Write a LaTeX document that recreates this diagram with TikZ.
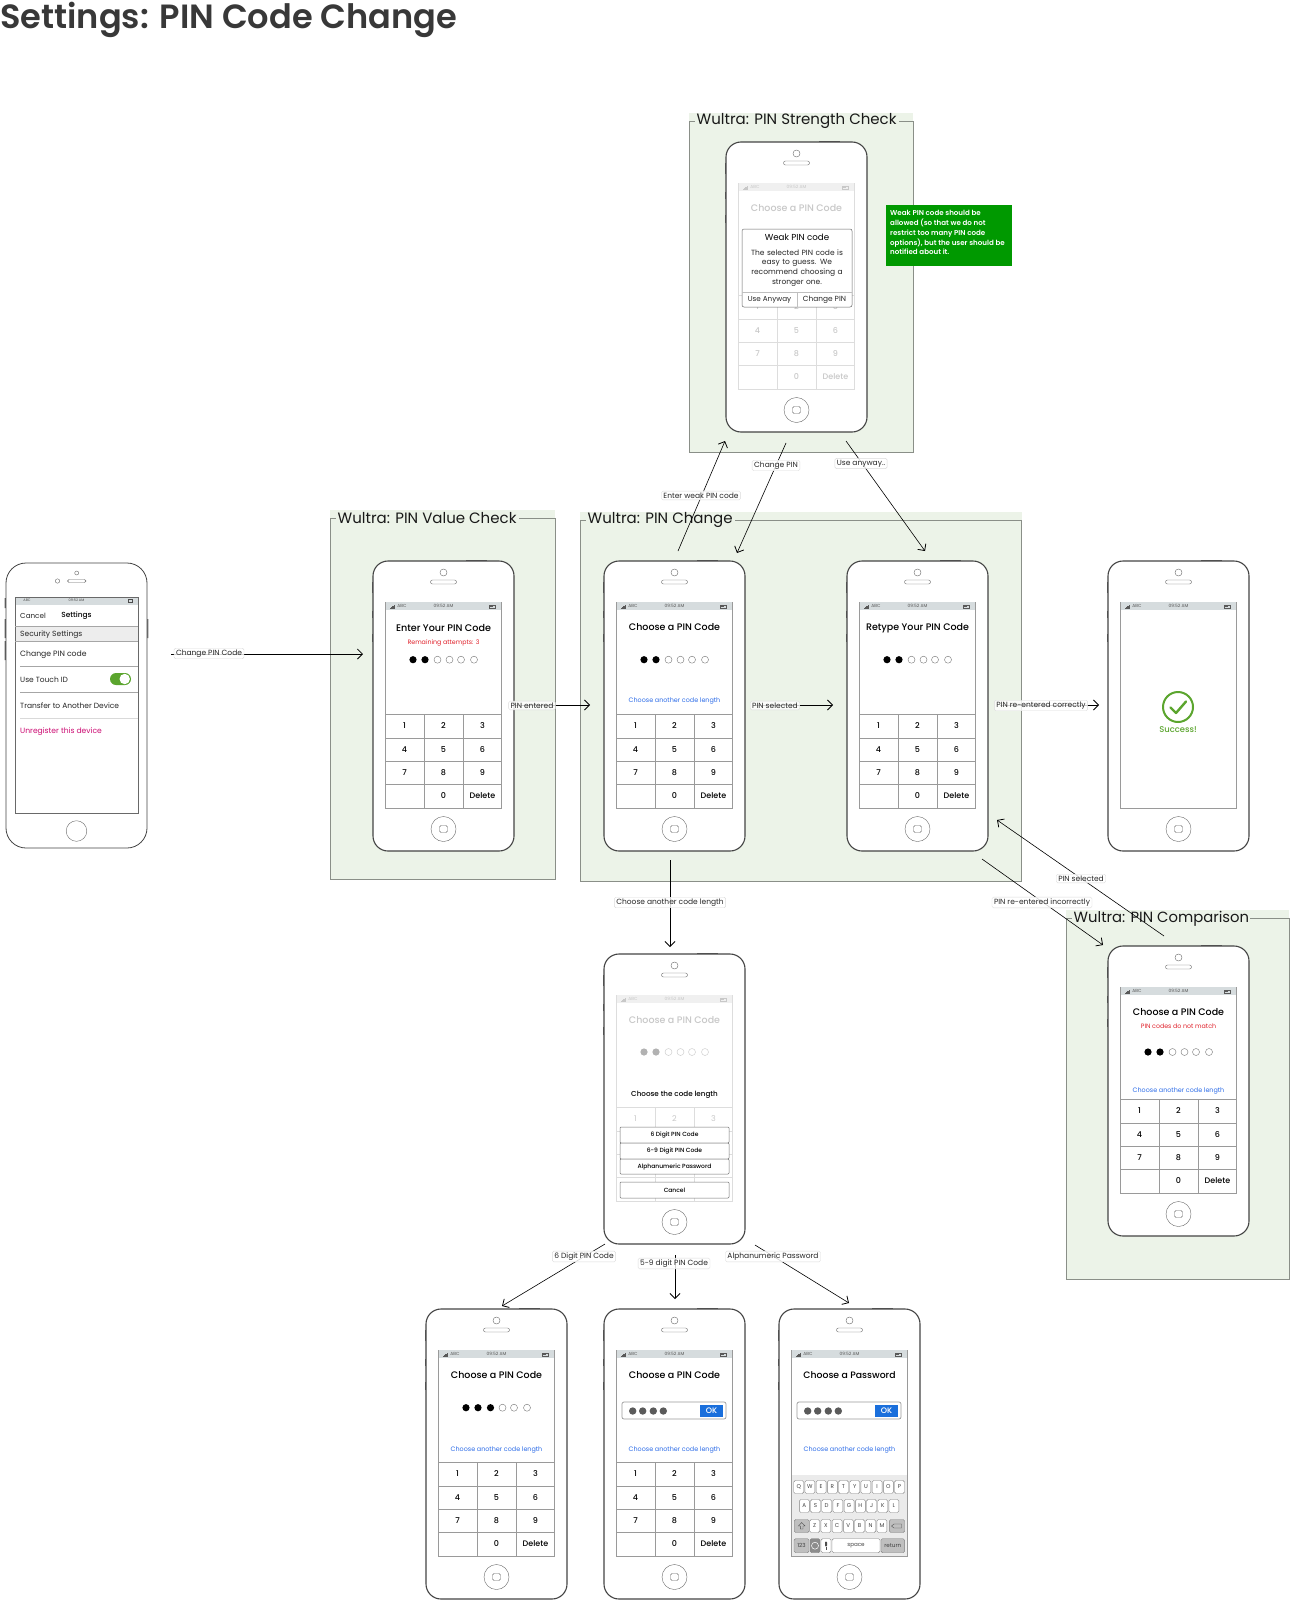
\documentclass[tikz,border=0pt]{standalone}
\usepackage{fontspec}
\setmainfont{Poppins}[BoldFont={Poppins Medium}]
\newfontfamily\headfont{Poppins SemiBold}
\usetikzlibrary{arrows.meta}
\definecolor{framefill}{HTML}{ECF3E8}
\definecolor{framedraw}{HTML}{8A8F88}
\definecolor{phoneline}{HTML}{444444}
\definecolor{screenline}{HTML}{9A9A9A}
\definecolor{barfill}{HTML}{D6DCDE}
\definecolor{faded}{HTML}{C8C8C8}
\definecolor{fadedline}{HTML}{DDDDDD}
\definecolor{linkblue}{HTML}{2B6BE8}
\definecolor{okblue}{HTML}{1A6FDC}
\definecolor{alertred}{HTML}{E0202A}
\definecolor{magentared}{HTML}{CC0A72}
\definecolor{noteGreen}{HTML}{009900}
\definecolor{okgreen}{HTML}{5BA52E}
\definecolor{dotgray}{HTML}{5A5A5A}
\newcommand{\fz}[1]{\fontsize{#1}{#1}\selectfont}
\newcommand{\fzb}[2]{\fontsize{#1}{#2}\selectfont}
\tikzset{
  phonebody/.style={draw=phoneline,fill=white,line width=1.1pt,rounded corners=15pt,minimum width=141pt,minimum height=290pt,inner sep=0pt},
  txt/.style={inner sep=0pt,text=#1},
  txt/.default=black,
  conn/.style={draw=black,line width=.6pt,-{Straight Barb[length=5pt,width=10pt,line width=.8pt]}},
  lbl/.style={draw=black!14,fill=white,fill opacity=.82,text opacity=1,text=black!85,rounded corners=1.5pt,inner xsep=2pt,inner ysep=1.5pt,font=\fz{7.5},yshift=-.5pt},
}
% shell of the iPhone 5 style phone, drawn relative to a shifted scope
\newcommand{\phoneshell}[1]{%
  \fill[phoneline!80] (93,-1.2) rectangle (114,.5);
  \fill[phoneline!80] (-1.2,21) rectangle (.5,32);
  \fill[phoneline!80] (-1.2,50) rectangle (.5,57);
  \fill[phoneline!80] (-1.2,73) rectangle (.5,81);
  \node[phonebody] (#1) at (70.5,145) {};
  \draw[phoneline!80,line width=.4pt] (70.5,11.5) circle (3.5);
  \draw[phoneline!80,line width=.4pt,rounded corners=2pt] (57.5,19) rectangle (83.5,23);
  \draw[phoneline!80,line width=.4pt] (70.5,268) circle (12.5);
  \draw[phoneline!80,line width=.4pt,rounded corners=1.5pt] (66.5,264.5) rectangle (74.5,271.5);
}
% screen and status bar: name, screen line, bar fill, text colour
\newcommand{\phonescreen}[4]{%
  \draw[#2,line width=.6pt] (12.3,41) rectangle (128.5,247);
  \fill[#3] (12.6,41.3) rectangle (128.2,49.3);
  \foreach \bx/\bh in {17/1,18/1.7,19/2.4,20/3.1,21/3.8}{\fill[#4] (\bx,47.8) rectangle ++(.55,-\bh);}
  \node[txt=#4,font=\fz{4.4}] (#1-abc) at (29,45.3) {ABC};
  \node[txt=#4,font=\fz{4.4}] (#1-clock) at (70.5,45.3) {09:52 AM};
  \draw[#4,line width=.4pt] (116,43.8) rectangle (122,46.8);
  \fill[#4] (116.7,44.5) rectangle (120,46.1);
}
% keypad grid: line colour
\newcommand{\keygrid}[1]{%
  \draw[#1,line width=.6pt] (12.3,153)--(128.5,153) (12.3,177)--(128.5,177) (12.3,200)--(128.5,200) (12.3,223.5)--(128.5,223.5) (51.3,153)--(51.3,247) (90,153)--(90,247);
}
\newcommand{\keypad}[3]{%
  \keygrid{#2}
  \foreach \kx/\ky/\kt/\kn in {31.5/165/1/a,70.5/165/2/b,109.5/165/3/c,31.5/188.5/4/d,70.5/188.5/5/e,109.5/188.5/6/f,31.5/211.5/7/g,70.5/211.5/8/h,109.5/211.5/9/i,70.5/235/0/j,109.5/235/Delete/k}{
    \node[txt=#3,font=\bfseries\fz{8}] (#1-key\kn) at (\kx,\ky) {\kt};
  }
}
% pin dots
\newcommand{\pindots}[5]{% name, y, n filled, fill colour, ring colour
  \foreach \dn/\dx in {1/40,2/52,3/64.5,4/76.5,5/88,6/101}{
    \ifnum\dn>#3\relax
      \draw[#5,line width=.45pt,fill=white] (\dx,#2) circle (3.5);
    \else
      \fill[#4] (\dx,#2) circle (3.6);
    \fi
  }
}
\newcommand{\choosetitle}[2]{\node[txt=#2,font=\bfseries\fz{9.5}] (#1-title) at (70.5,66.5) {Choose a PIN Code};}
\newcommand{\otherlink}[2]{\node[txt=linkblue,font=\fz{6.4}] (#1-link) at (70.5,#2) {Choose another code length};}
% text field with OK button
\newcommand{\okfield}[1]{%
  \draw[screenline,line width=.7pt,rounded corners=2pt,fill=white] (18,93) rectangle (122,110);
  \foreach \fx in {28.7,38.7,49.3,59.3}{\fill[dotgray] (\fx,102) circle (3.7);}
  \node[fill=okblue,text=white,font=\bfseries\fz{8},minimum width=23pt,minimum height=12pt,inner sep=0pt] (#1-ok) at (107.5,102) {OK};
}
% green frame
\newcommand{\greenframe}[9]{% name,left,top,right,bottom,titleleft,titleright,font size,title
  \fill[framefill] (#2,#3-8) rectangle (#4,#5);
  \draw[framedraw,line width=.7pt] (#7,#3)--(#4,#3)--(#4,#5)--(#2,#5)--(#2,#3)--(#6,#3);
  \node[txt=black!90,font=\fz{#8},anchor=west] (#1) at (#6+1.5,#3+.3) {#9};
}
\begin{document}
\begin{tikzpicture}[x=1pt,y=-1pt]
\useasboundingbox (0,0) rectangle (1290,1600);
\fill[white] (0,0) rectangle (1290,1600);

\node[txt=black!78,font=\headfont\fz{33.6},anchor=west] (pagehead) at (0,19.5) {Settings: PIN Code Change};

\greenframe{fstrength}{689}{121}{913}{452}{695}{899}{15}{Wultra: PIN Strength Check}
\greenframe{fvalue}{330}{518}{555}{879}{336}{519}{15}{Wultra: PIN Value Check}
\greenframe{fchange}{580}{520}{1021.5}{881}{586}{735}{15}{Wultra: PIN Change}
\greenframe{fcompare}{1066}{918}{1289}{1279}{1072}{1250}{14.8}{Wultra: PIN Comparison}

% ---- settings phone
\fill[phoneline!80] (4.6,598) rectangle (6,608) (4.6,619) rectangle (6,638) (4.6,641) rectangle (6,660) (147,619) rectangle (148.4,638);
\node[draw=phoneline,fill=white,line width=.8pt,rounded corners=20pt,minimum width=141pt,minimum height=285pt,inner sep=0pt] (psettings) at (76.5,705.5) {};
\draw[phoneline!80,line width=.4pt] (76.7,573) circle (2) (57.5,581) circle (2.2);
\draw[phoneline!80,line width=.4pt,rounded corners=1.5pt] (67.5,579.5) rectangle (86,582.5);
\draw[phoneline!80,line width=.4pt] (76.5,831) circle (10.3);
\fill[black!7] (15,626) rectangle (138,641);
\fill[barfill] (15,597) rectangle (138,604.5);
\draw[phoneline!80,line width=.7pt] (15,597) rectangle (138,813);
\draw[black!35,line width=.6pt] (15,626)--(138,626) (15,641)--(138,641) (20,666)--(138,666) (20,692)--(138,692);
\draw[black!15,line width=.6pt] (20,718)--(138,718);
\node[txt=black!70,font=\fz{3.5}] (ps-abc) at (27,600.7) {ABC};
\node[txt=black!70,font=\fz{3.5}] (ps-clock) at (76.5,600.7) {09:52 AM};
\draw[black!70,line width=.3pt] (128,599.5) rectangle (132.5,602);
\node[txt=black!85,font=\fz{7.2},anchor=west] (ps-cancel) at (20,615.5) {Cancel};
\node[txt,font=\bfseries\fz{7.4}] (ps-settings) at (76.5,615.5) {Settings};
\node[txt=black!85,font=\fz{7.5},anchor=west] (ps-sec) at (20,634.5) {Security Settings};
\node[txt=black!85,font=\fz{7.7},anchor=west] (ps-change) at (20,654.5) {Change PIN code};
\node[txt=black!85,font=\fz{7.5},anchor=west] (ps-touch) at (20,679.5) {Use Touch ID};
\fill[okgreen,rounded corners=6pt] (110,673) rectangle (131,685);
\fill[white] (124.7,679) circle (5.2);
\node[txt=black!85,font=\fz{7.5},anchor=west] (ps-transfer) at (20,706) {Transfer to Another Device};
\node[txt=magentared,font=\fz{7.6},anchor=west] (ps-unreg) at (20,732) {Unregister this device};

% ---- strength phone (faded, with dialog)
\begin{scope}[shift={(726,142)}]
  \phoneshell{pstrength}
  \phonescreen{pstrength}{fadedline}{black!6}{faded}
  \choosetitle{pstrength}{faded}
  \keypad{pstrength}{fadedline}{faded}
  \draw[black!60,line width=.5pt,fill=white,rounded corners=2pt] (16,87) rectangle (126,165);
  \draw[black!25,line width=.5pt] (16,150)--(126,150) (71,150)--(71,165);
  \node[txt,font=\fz{8.7}] (pstrength-dh) at (71,95.5) {Weak PIN code};
  \node[txt=black!85,font=\fzb{7.5}{9.7},align=center,text width=110pt,inner sep=0pt] (pstrength-dt) at (71,126) {The selected PIN code is\\easy to guess. We\\recommend choosing a\\stronger one.};
  \node[txt=black!85,font=\fz{7.2}] (pstrength-b1) at (43.5,158) {Use Anyway};
  \node[txt=black!85,font=\fz{7.4}] (pstrength-b2) at (98.5,158) {Change PIN};
\end{scope}

\node[fill=noteGreen,minimum width=126pt,minimum height=61pt,inner sep=0pt,anchor=north west] (note) at (886,205) {};
\node[txt=white,font=\headfont\fzb{7.1}{9.7},anchor=north west,align=left] (notetext) at (890,210.5) {Weak PIN code should be\\allowed (so that we do not\\restrict too many PIN code\\options), but the user should be\\notified about it.};

% ---- enter pin phone
\begin{scope}[shift={(373,561)}]
  \phoneshell{penter}
  \phonescreen{penter}{screenline}{barfill}{black!65}
  \node[txt,font=\bfseries\fz{9.6}] (penter-title) at (70.5,67) {Enter Your PIN Code};
  \node[txt=alertred,font=\fz{6.3}] (penter-sub) at (70.5,81.5) {Remaining attempts: 3};
  \pindots{penter}{98.7}{2}{black}{black!50}
  \keypad{penter}{screenline}{black}
\end{scope}

% ---- choose pin phone
\begin{scope}[shift={(604,561)}]
  \phoneshell{pchoose}
  \phonescreen{pchoose}{screenline}{barfill}{black!65}
  \choosetitle{pchoose}{black}
  \pindots{pchoose}{98.7}{2}{black}{black!50}
  \otherlink{pchoose}{140.2}
  \keypad{pchoose}{screenline}{black}
\end{scope}

% ---- retype pin phone
\begin{scope}[shift={(847,561)}]
  \phoneshell{pretype}
  \phonescreen{pretype}{screenline}{barfill}{black!65}
  \node[txt,font=\bfseries\fz{9.5}] (pretype-title) at (70.5,67) {Retype Your PIN Code};
  \pindots{pretype}{98.7}{2}{black}{black!50}
  \keypad{pretype}{screenline}{black}
\end{scope}

% ---- success phone
\begin{scope}[shift={(1108,561)}]
  \phoneshell{psuccess}
  \phonescreen{psuccess}{screenline}{barfill}{black!65}
  \draw[okgreen,line width=2pt] (70,146) circle (15);
  \draw[okgreen,line width=2.4pt,line cap=round,line join=round] (62.5,146.5)--(68,152)--(78,140.5);
  \node[txt=okgreen,font=\bfseries\fz{8.4}] (psuccess-t) at (70,169) {Success!};
\end{scope}

% ---- mismatch phone
\begin{scope}[shift={(1108,946)}]
  \phoneshell{pcompare}
  \phonescreen{pcompare}{screenline}{barfill}{black!65}
  \choosetitle{pcompare}{black}
  \node[txt=alertred,font=\fz{6.3}] (pcompare-sub) at (70.5,80) {PIN codes do not match};
  \pindots{pcompare}{106}{2}{black}{black!50}
  \otherlink{pcompare}{144.7}
  \keypad{pcompare}{screenline}{black}
\end{scope}

% ---- code length phone
\begin{scope}[shift={(604,954)}]
  \phoneshell{plength}
  \phonescreen{plength}{fadedline}{black!6}{faded}
  \choosetitle{plength}{faded}
  \pindots{plength}{98}{2}{black!30}{black!20}
  \node[txt,font=\bfseries\fz{7.2}] (plength-q) at (70.5,140.5) {Choose the code length};
  \keygrid{fadedline}
  \foreach \kx/\kt in {31.5/1,70.5/2,109.5/3}{\node[txt=faded,font=\fz{8}] (plength-key\kt) at (\kx,165) {\kt};}
  \foreach \ya/\yb/\bt/\bn in {173/189/6 Digit PIN Code/a,189/205/6-9 Digit PIN Code/b,205/220/Alphanumeric Password/c,228/244/Cancel/d}{
    \node[draw=black!55,fill=white,line width=.5pt,rounded corners=1pt,minimum width=109pt,minimum height=\yb pt-\ya pt,inner sep=0pt,font=\bfseries\fz{6}] (plength-\bn) at (70.5,{(\ya+\yb)/2}) {\bt};
  }
\end{scope}

% ---- six digit phone
\begin{scope}[shift={(426,1309)}]
  \phoneshell{psix}
  \phonescreen{psix}{screenline}{barfill}{black!65}
  \choosetitle{psix}{black}
  \pindots{psix}{98.7}{3}{black}{black!50}
  \otherlink{psix}{140.5}
  \keypad{psix}{screenline}{black}
\end{scope}

% ---- 5-9 digit phone
\begin{scope}[shift={(604,1309)}]
  \phoneshell{pnine}
  \phonescreen{pnine}{screenline}{barfill}{black!65}
  \choosetitle{pnine}{black}
  \okfield{pnine}
  \otherlink{pnine}{140.5}
  \keypad{pnine}{screenline}{black}
\end{scope}

% ---- password phone
\begin{scope}[shift={(779,1309)}]
  \phoneshell{ppass}
  \fill[black!8] (12.6,166) rectangle (128.2,246.7);
  \phonescreen{ppass}{screenline}{barfill}{black!65}
  \node[txt,font=\bfseries\fz{9.3}] (ppass-title) at (70.5,66.5) {Choose a Password};
  \okfield{ppass}
  \otherlink{ppass}{140.5}
  \tikzset{kb/.style={draw=black!50,fill=white,line width=.4pt,rounded corners=1.5pt,minimum width=10pt,minimum height=13pt,inner sep=0pt,font=\fz{5.6},text=black!75},
           kbd/.style={kb,fill=black!25}}
  \foreach \kl [count=\ki from 0] in {Q,W,E,R,T,Y,U,I,O,P}{\node[kb] (ppass-r1\ki) at ({19.7+11.2*\ki},178) {\kl};}
  \foreach \kl [count=\ki from 0] in {A,S,D,F,G,H,J,K,L}{\node[kb] (ppass-r2\ki) at ({25.3+11.2*\ki},197) {\kl};}
  \foreach \kl [count=\ki from 0] in {Z,X,C,V,B,N,M}{\node[kb] (ppass-r3\ki) at ({35.7+11.2*\ki},217) {\kl};}
  \node[kbd,minimum width=15pt] (ppass-shift) at (22.7,217) {};
  \draw[black!70,line width=.4pt] (22.7,213.5)--(26,217)--(24,217)--(24,220)--(21.4,220)--(21.4,217)--(19.4,217)--cycle;
  \node[kbd,minimum width=15.4pt] (ppass-back) at (118,217) {};
  \draw[black!70,line width=.4pt] (112.5,217)--(115,215)--(122.5,215)--(122.5,219)--(115,219)--cycle;
  \node[kbd,minimum width=15pt,minimum height=14pt] (ppass-123) at (22.5,236.7) {123};
  \node[kbd,fill=black!45,minimum height=14pt] (ppass-globe) at (36,236.7) {};
  \draw[white,line width=.5pt] (36,236.7) circle (3.5);
  \node[kb,minimum height=14pt] (ppass-mic) at (47,236.7) {};
  \fill[black!70,rounded corners=.8pt] (46,232.5) rectangle (48,237.5);
  \draw[black!70,line width=.4pt] (47,237.5)--(47,241);
  \node[kb,minimum width=48pt,minimum height=14pt] (ppass-space) at (77,236.7) {space};
  \node[kbd,minimum width=23.7pt,minimum height=14pt] (ppass-return) at (113.8,236.7) {return};
\end{scope}

% ---- free ends of connectors
\coordinate (a1s) at (171,654);  \coordinate (a1e) at (363,654);
\coordinate (a2s) at (515,705);  \coordinate (a2e) at (590,705);
\coordinate (a3s) at (755,705);  \coordinate (a3e) at (833,705);
\coordinate (a4s) at (1000,705); \coordinate (a4e) at (1099,705);
\coordinate (a5s) at (670,860);  \coordinate (a5e) at (670,947);
\coordinate (a6s) at (678,551);  \coordinate (a6e) at (725,441);
\coordinate (a7s) at (786,443);  \coordinate (a7e) at (737,553);
\coordinate (a8s) at (846,441);  \coordinate (a8e) at (925,551);
\coordinate (a9s) at (1164,936); \coordinate (a9e) at (997,820);
\coordinate (a10s) at (982,859); \coordinate (a10e) at (1103,945);
\coordinate (a11s) at (605,1244);\coordinate (a11e) at (502,1306);
\coordinate (a12s) at (675,1255);\coordinate (a12e) at (675,1299);
\coordinate (a13s) at (755,1245);\coordinate (a13e) at (849,1303);
\foreach \an in {1,...,13}{\draw[conn] (a\an s) -- (a\an e);}

\node[lbl] (l1) at (209,653) {Change PIN Code};
\node[lbl] (l2) at (532,705) {PIN entered};
\node[lbl] (l3) at (775,705) {PIN selected};
\node[lbl] (l4) at (1041,705) {PIN re-entered correctly};
\node[lbl] (l5) at (670,902) {Choose another code length};
\node[lbl] (l6) at (701,495) {Enter weak PIN code};
\node[lbl] (l7) at (776,465) {Change PIN};
\node[lbl] (l8) at (861,463) {Use anyway..};
\node[lbl] (l9) at (1081,878) {PIN selected};
\node[lbl] (l10) at (1042,902) {PIN re-entered incorrectly};
\node[lbl] (l11) at (584,1256) {6 Digit PIN Code};
\node[lbl] (l12) at (674,1263) {5-9 digit PIN Code};
\node[lbl] (l13) at (773,1256) {Alphanumeric Password};
\end{tikzpicture}
\end{document}
